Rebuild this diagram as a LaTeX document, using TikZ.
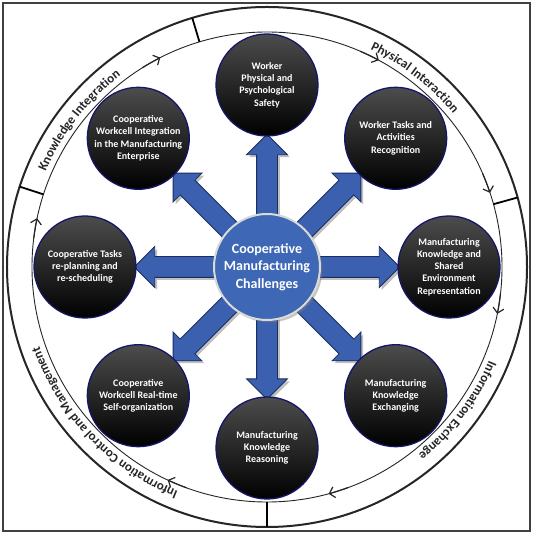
\documentclass[tikz,border=0pt]{standalone}
\usepackage{fontspec}
\setmainfont{Carlito}
\usetikzlibrary{shapes.arrows,shadows,decorations.text,arrows.meta}
\pgfdeclarelayer{background}
\pgfsetlayers{background,main}

\definecolor{coreblue}{RGB}{62,104,182}
\definecolor{arrowblue}{RGB}{58,96,175}
\definecolor{arrowrim}{RGB}{28,46,96}
\definecolor{navyrim}{RGB}{22,22,105}
\definecolor{ringgray}{RGB}{38,38,38}

\newcommand{\ringfont}{\bfseries\fontsize{13}{15}\selectfont}

\begin{document}
\begin{tikzpicture}[x=1pt,y=1pt,
    challenge/.style={circle,minimum size=102pt,inner sep=0pt,draw=navyrim,
      line width=1.3pt,top color=black!70,bottom color=black,text=white,
      align=center,font=\bfseries\fontsize{10}{12.2}\selectfont},
    core/.style={circle,minimum size=106pt,inner sep=0pt,fill=coreblue,
      draw=white!85!black,line width=2pt,text=white,align=center,
      font=\bfseries\fontsize{14}{17.5}\selectfont,drop shadow={opacity=0.45}},
    flowarrow/.style={single arrow,sloped,allow upside down,pos=0.426,
      minimum height=82pt,inner xsep=0pt,inner ysep=10pt,
      single arrow head extend=10pt,fill=arrowblue,draw=arrowrim,
      line width=0.8pt,drop shadow={opacity=0.5}},
    ringline/.style={draw=ringgray},
    tickmark/.style={draw=black,line width=1.8pt},
    ringtip/.style={ringgray,line width=1.2pt,
      -{Straight Barb[length=5pt,width=11pt]}},
    ringlabel/.style={decorate,decoration={text along path,text align=center,
      text color=ringgray,text={|\ringfont|#1}}}]

  \useasboundingbox (-267,-267) rectangle (267,267);
  \begin{pgfonlayer}{background}
    \fill[white] (-267,-267) rectangle (267,267);
  \end{pgfonlayer}
  \draw[black!75,line width=1.2pt] (-264,264) rectangle (263,-264);

  % ring
  \draw[ringline,line width=2pt] (0,0) circle[radius=260];
  \draw[ringline,line width=0.9pt] (0,0) circle[radius=235];
  \draw[tickmark] (106.7:235) -- (106.7:260);
  \draw[tickmark] (15.5:235) -- (15.5:260);
  \draw[tickmark] (-90:235) -- (-90:260);
  \draw[tickmark] (162:235) -- (162:260);

  \draw[ringtip] (122:235) arc[start angle=122,end angle=117,radius=235];
  \draw[ringtip] (66.6:235) arc[start angle=66.6,end angle=61.6,radius=235];
  \draw[ringtip] (23.4:235) arc[start angle=23.4,end angle=18.4,radius=235];
  \draw[ringtip] (-6.5:235) arc[start angle=-6.5,end angle=-11.5,radius=235];
  \draw[ringtip] (-69.8:235) arc[start angle=-69.8,end angle=-74.8,radius=235];
  \draw[ringtip] (250:235) arc[start angle=250,end angle=245,radius=235];
  \draw[ringtip] (173:235) arc[start angle=173,end angle=168,radius=235];

  \path[ringlabel=Knowledge Integration]
    (167:241) arc[start angle=167,end angle=117,radius=241];
  \path[ringlabel=Physical Interaction]
    (77:241) arc[start angle=77,end angle=27,radius=241];
  \path[ringlabel=Information Exchange]
    (-12:241) arc[start angle=-12,end angle=-62,radius=241];
  \path[ringlabel=Information Control and Management]
    (253.8:241) arc[start angle=253.8,end angle=193.8,radius=241];

  \node[core]      (core)           at (0,0)     {Cooperative\\Manufacturing\\Challenges};
  \node[challenge] (safety)         at (90:182)  {Worker\\Physical and\\Psychological\\Safety};
  \node[challenge] (recognition)    at (45:182)  {Worker Tasks and\\Activities\\Recognition};
  \node[challenge] (representation) at (0:182)   {Manufacturing\\Knowledge and\\Shared\\Environment\\Representation};
  \node[challenge] (exchanging)     at (-45:182) {Manufacturing\\Knowledge\\Exchanging};
  \node[challenge] (reasoning)      at (-90:181) {Manufacturing\\Knowledge\\Reasoning};
  \node[challenge] (selforg)        at (225:182) {Cooperative\\Workcell Real-time\\Self-organization};
  \node[challenge] (replanning)     at (180:182) {Cooperative Tasks\\re-planning and\\re-scheduling};
  \node[challenge] (integration)    at (135:182) {Cooperative\\Workcell Integration\\in the Manufacturing\\Enterprise};

  \begin{pgfonlayer}{background}
  \path (core) -- (safety)         node[flowarrow] {}
        (core) -- (recognition)    node[flowarrow] {}
        (core) -- (representation) node[flowarrow] {}
        (core) -- (exchanging)     node[flowarrow] {}
        (core) -- (reasoning)      node[flowarrow] {}
        (core) -- (selforg)        node[flowarrow] {}
        (core) -- (replanning)     node[flowarrow] {}
        (core) -- (integration)    node[flowarrow] {};
  \end{pgfonlayer}
\end{tikzpicture}
\end{document}
